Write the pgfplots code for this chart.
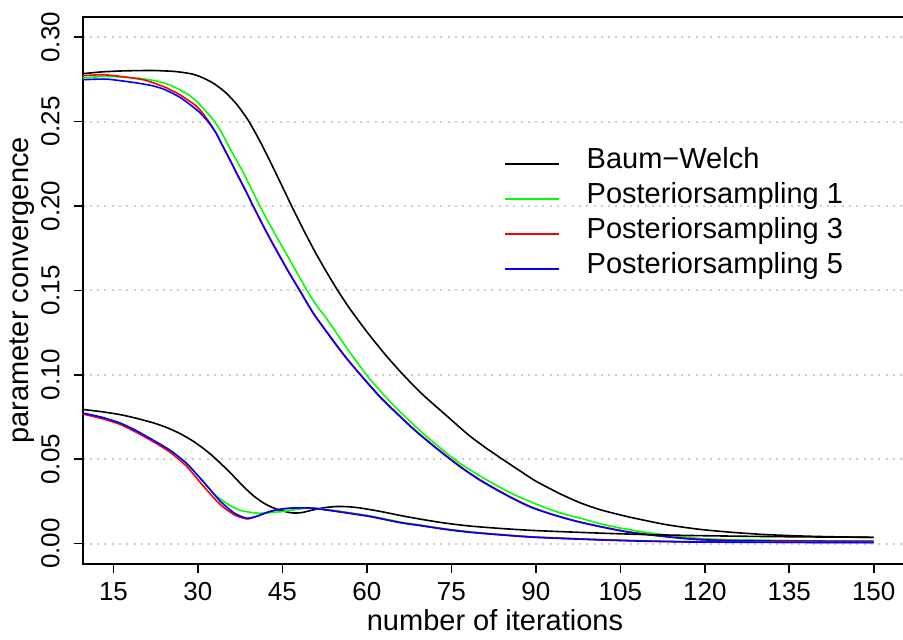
\documentclass[border=0pt]{standalone}
\usepackage{fontspec}
\setmainfont{Liberation Sans}
\usepackage{pgfplots}
\pgfplotsset{compat=1.18}
\begin{document}
\begin{tikzpicture}
\begin{axis}[
  at={(41.25pt,37.5pt)}, anchor=south west,
  scale only axis, width=412.5pt, height=273.75pt,
  xmin=9.5, xmax=156, ymin=-0.0121, ymax=0.3123,
  axis line style={line width=1pt},
  tick pos=left, tick align=outside, major tick length=4.5pt,
  tick style={line width=0.8pt, black},
  xtick={15,30,45,60,75,90,105,120,135,150},
  xticklabels={15,30,45,60,75,90,105,120,135,150},
  ytick={0,0.05,0.1,0.15,0.2,0.25,0.3},
  yticklabels={0.00,0.05,0.10,0.15,0.20,0.25,0.30},
  xticklabel style={font=\fontsize{13}{15}\selectfont, inner sep=0pt, anchor=north, yshift=-4.5pt},
  yticklabel style={font=\fontsize{13}{15}\selectfont, inner sep=0pt, xshift=-6.75pt, rotate=90, anchor=south},
  ymajorgrids,
  grid style={color=black!20, line width=1pt, dash pattern=on 1pt off 2.65pt},
  every axis x label/.style={at={(rel axis cs:0.5,0)}, yshift=-28pt, anchor=center},
  every axis y label/.style={at={(rel axis cs:0,0.5)}, xshift=-30.25pt, rotate=90, anchor=center},
  xlabel={\fontsize{14.5}{16}\selectfont number of iterations},
  ylabel={\fontsize{14.5}{16}\selectfont parameter convergence},
  legend style={draw=none, fill=none, at={(rel axis cs:0.5109,0.7637)}, anchor=north west,
    inner sep=0pt, column sep=13.15pt, row sep=0pt,
    font=\fontsize{14.5}{16}\selectfont,
    nodes={inner sep=0pt, text height=11pt, text depth=6.6pt}},
  legend cell align=left,
  legend image code/.code={\draw[#1, line width=1pt] (0pt,0pt) -- (27pt,0pt);},
  every axis plot/.append style={line width=0.8pt, smooth, tension=0.4},
]
% Baum-Welch upper
\addplot[black] coordinates {
(9.5,0.2784)(13,0.2795)(17,0.2801)(22,0.2803)(26,0.2797)(29,0.2782)(31,0.2758)(33,0.2722)(35,0.2670)(37,0.2598)(39,0.2504)(41,0.2385)(43,0.2252)(45,0.2114)(47,0.1975)(49,0.1842)(51,0.1716)(53,0.1600)(55,0.1490)(57,0.1390)(60,0.1255)(63,0.1130)(66.5,0.0998)(70,0.0880)(74,0.0762)(78,0.0645)(81,0.0570)(84.2,0.0497)(87,0.0435)(90,0.0370)(94.3,0.0295)(98,0.0240)(101.4,0.0201)(104.5,0.0174)(107.3,0.0152)(113.2,0.0112)(119.2,0.0084)(125.1,0.0066)(131,0.0053)(138,0.0044)(145,0.0039)(150,0.0037)};
\addlegendentry{Baum−Welch}
% PS1 upper
\addplot[green] coordinates {
(9.5,0.2758)(13.2,0.2768)(16,0.2765)(19.2,0.2758)(22,0.2745)(24.5,0.2724)(26.8,0.2689)(28.5,0.2655)(30.1,0.2610)(32.7,0.2511)(34.2,0.2435)(35.7,0.2340)(38.1,0.2195)(41,0.2000)(42.8,0.1888)(44.6,0.1781)(47,0.1640)(49.3,0.1504)(51,0.1414)(52.9,0.1330)(56.4,0.1160)(60,0.0996)(62.5,0.0900)(65.3,0.0800)(70,0.0652)(74.2,0.0535)(77,0.0465)(80.1,0.0400)(83,0.0345)(86,0.0292)(90,0.0235)(94.3,0.0182)(98.4,0.0146)(101.4,0.0118)(105,0.0092)(110.3,0.0063)(115,0.0045)(119.2,0.0030)(125,0.0023)(137,0.0017)(150,0.0012)};
\addlegendentry{Posteriorsampling 1}
% PS3 upper
\addplot[red] coordinates {
(9.5,0.2772)(13.2,0.2778)(17,0.2765)(20.3,0.2748)(22.5,0.2725)(24.5,0.2699)(27,0.2655)(29.8,0.2590)(31.3,0.2530)(32.7,0.2462)(34.2,0.2370)(35.7,0.2274)(37.2,0.2175)(38.7,0.2077)(40.1,0.1982)(41.6,0.1884)(43.1,0.1790)(44.6,0.1700)(46.3,0.1600)(48.1,0.1500)(50.5,0.1366)(53.5,0.1227)(56.4,0.1099)(59.3,0.0985)(62.3,0.0872)(65.3,0.0774)(68.3,0.0680)(71.2,0.0598)(74.2,0.0518)(77.1,0.0445)(80,0.0380)(83.1,0.0320)(86,0.0268)(89,0.0220)(91.7,0.0187)(94.3,0.0160)(97.5,0.0131)(101.4,0.0102)(106,0.0072)(110.3,0.0053)(115,0.0036)(119.2,0.0025)(125,0.0018)(137,0.0015)(150,0.0014)};
\addlegendentry{Posteriorsampling 3}
% PS5 upper
\addplot[blue] coordinates {
(9.5,0.2748)(13.8,0.2752)(19.2,0.2729)(22,0.2712)(24.2,0.2689)(27,0.2640)(30.1,0.2561)(31.8,0.2500)(33.3,0.2428)(34.2,0.2368)(35.7,0.2271)(37.2,0.2172)(38.7,0.2074)(40.1,0.1979)(41.6,0.1881)(43.1,0.1787)(44.6,0.1697)(46.3,0.1597)(48.1,0.1497)(50.5,0.1363)(53.5,0.1224)(56.4,0.1096)(59.3,0.0982)(62.3,0.0869)(65.3,0.0771)(68.3,0.0677)(71.2,0.0595)(74.2,0.0515)(77.1,0.0442)(80,0.0377)(83.1,0.0317)(86,0.0265)(89,0.0217)(91.7,0.0185)(94.3,0.0158)(97.5,0.0129)(101.4,0.0100)(106,0.0070)(110.3,0.0051)(115,0.0034)(119.2,0.0023)(125,0.0017)(137,0.0014)(150,0.0013)};
\addlegendentry{Posteriorsampling 5}
% Baum-Welch lower
\addplot[black, forget plot] coordinates {
(9.5,0.0795)(13,0.0781)(16.2,0.0764)(19,0.0743)(22.1,0.0715)(24.5,0.0687)(26.8,0.0652)(29,0.0610)(31,0.0563)(32.5,0.0522)(34,0.0476)(35.5,0.0428)(36.9,0.0379)(38.4,0.0328)(39.9,0.0282)(41.4,0.0246)(42.8,0.0220)(44.5,0.0198)(46,0.0186)(47,0.0181)(48.5,0.0184)(50.5,0.0200)(52.5,0.0213)(54.7,0.0220)(56.8,0.0218)(58.8,0.0211)(62,0.0193)(66.5,0.0163)(70,0.0142)(74,0.0121)(78.3,0.0104)(83.6,0.0090)(90,0.0077)(101.4,0.0062)(110,0.0053)(119.2,0.0047)(128,0.0043)(136.9,0.0040)(150,0.0037)};
% PS1 lower
\addplot[green, forget plot] coordinates {
(9.5,0.0771)(13,0.0746)(16.2,0.0712)(19,0.0668)(22.1,0.0610)(25.1,0.0550)(28,0.0473)(31,0.0366)(33,0.0290)(35.1,0.0238)(37.5,0.0197)(40.4,0.0181)(42.8,0.0183)(45.2,0.0191)(47.6,0.0203)(49.9,0.0211)(52,0.0205)(54.7,0.0194)(60.6,0.0164)(65.9,0.0128)(69.4,0.0110)(74,0.0087)(78.3,0.0070)(83.6,0.0054)(90,0.0039)(101.4,0.0023)(110,0.0015)(119.2,0.0010)(135,0.0008)(150,0.0007)};
% PS3 lower
\addplot[red, forget plot] coordinates {
(9.5,0.0768)(13,0.0740)(16.2,0.0706)(19,0.0660)(22.1,0.0603)(25.1,0.0540)(28,0.0457)(31,0.0339)(34,0.0230)(36.5,0.0170)(38.7,0.0146)(40.5,0.0162)(42.8,0.0191)(45,0.0205)(47.6,0.0211)(50.5,0.0210)(54.7,0.0191)(60.6,0.0161)(65.9,0.0125)(69.4,0.0108)(74,0.0085)(78.3,0.0068)(83.6,0.0053)(90,0.0038)(101.4,0.0023)(110,0.0015)(119.2,0.0010)(135,0.0008)(150,0.0007)};
% PS5 lower
\addplot[blue, forget plot] coordinates {
(9.5,0.0774)(13,0.0748)(16.2,0.0714)(19,0.0670)(22.1,0.0612)(25.1,0.0552)(28,0.0475)(31,0.0365)(34,0.0250)(36.5,0.0180)(38.7,0.0150)(40.5,0.0163)(42.8,0.0190)(45,0.0206)(47.6,0.0212)(50.5,0.0209)(54.7,0.0190)(60.6,0.0160)(65.9,0.0124)(69.4,0.0107)(74,0.0084)(78.3,0.0067)(83.6,0.0052)(90,0.0037)(101.4,0.0022)(110,0.0014)(119.2,0.0009)(135,0.0007)(150,0.0006)};
\end{axis}
\pgfresetboundingbox
\useasboundingbox (0,0) rectangle (451.5pt,319.5pt);
\end{tikzpicture}
\end{document}
